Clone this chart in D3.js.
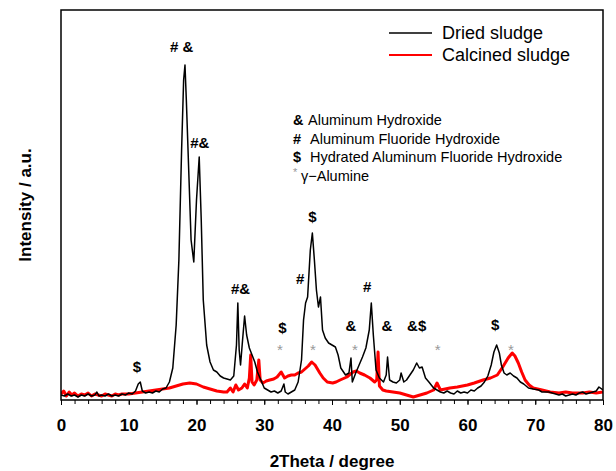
<!DOCTYPE html>
<html>
<head>
<meta charset="utf-8">
<script src="https://cdn.jsdelivr.net/npm/d3@7"></script>
<style>
	body { margin: 0; background: #fff; }
	text { font-family: Arial, "Liberation Sans", sans-serif; }
</style>
</head>
<body>
<div id="chart"></div>
<script>
// XRD patterns, [2theta, intensity a.u.]
let driedSludge = [
	[0, 5], [0.5, 4], [1, 6], [1.5, 4], [2, 5], [2.5, 3], [3, 5], [3.5, 4], [4, 6], [4.5, 4],
	[5, 5], [5.3, 8], [5.6, 4], [6, 5], [6.5, 4], [7, 6], [7.5, 4], [8, 5], [8.5, 4], [9, 6],
	[9.5, 5], [10, 7], [10.5, 6], [11, 9], [11.4, 16], [11.7, 18], [12, 9], [12.5, 7], [13, 8],
	[13.5, 7], [14, 9], [14.5, 8], [15, 11], [15.5, 12], [16, 18], [16.5, 32], [17, 75],
	[17.4, 140], [17.8, 250], [18.1, 320], [18.3, 335], [18.5, 300], [18.8, 240], [19.2, 160],
	[19.6, 138], [20, 200], [20.4, 243], [20.7, 180], [21, 100], [21.5, 55], [22, 38],
	[22.5, 30], [23, 28], [23.5, 24], [24, 22], [24.5, 21], [25, 20], [25.5, 24], [25.9, 55],
	[26.1, 97], [26.3, 50], [26.5, 35], [26.8, 60], [27.1, 84], [27.4, 65], [27.8, 52],
	[28.2, 45], [28.6, 38], [29, 28], [29.5, 20], [30, 12], [30.5, 10], [31, 8], [31.5, 9],
	[32, 7], [32.5, 9], [32.9, 16], [33.1, 8], [33.5, 6], [34, 8], [34.5, 10], [35, 18],
	[35.5, 40], [35.8, 80], [36.1, 97], [36.4, 103], [36.8, 150], [37.1, 167], [37.4, 140],
	[37.7, 110], [38, 93], [38.3, 103], [38.6, 70], [39, 62], [39.5, 57], [40, 55], [40.5, 53],
	[40.9, 45], [41.3, 32], [42, 25], [42.5, 27], [42.8, 42], [43, 18], [43.5, 27], [44, 35],
	[44.5, 43], [45, 52], [45.5, 70], [45.8, 97], [46.1, 65], [46.5, 30], [47, 22], [47.6, 18],
	[48, 25], [48.2, 43], [48.5, 20], [49, 18], [49.5, 17], [50, 20], [50.2, 27], [50.6, 18],
	[51, 20], [51.5, 25], [52, 30], [52.5, 37], [52.9, 32], [53.3, 33], [53.8, 22], [54.3, 18],
	[55, 12], [55.5, 10], [56, 8], [56.5, 7], [57, 9], [57.5, 7], [58, 6], [58.5, 9], [59, 7],
	[59.5, 8], [60, 7], [60.5, 10], [61, 9], [61.5, 12], [62, 14], [62.5, 18], [63, 24],
	[63.5, 35], [63.9, 48], [64.3, 55], [64.7, 47], [65, 35], [65.4, 27], [65.8, 25], [66.3, 27],
	[66.8, 24], [67.3, 22], [67.8, 18], [68.3, 16], [69, 12], [69.7, 11], [70.5, 10], [71, 8],
	[72, 8], [72.5, 7], [73, 6], [73.5, 5], [74, 6], [74.5, 4], [75, 5], [75.5, 6], [76, 5],
	[76.5, 7], [77, 8], [77.5, 6], [78, 7], [78.5, 8], [79, 9], [79.4, 13], [80, 10]
];

let calcinedSludge = [
	[0, 6], [0.4, 9], [0.8, 4], [1.2, 8], [1.6, 5], [2, 7], [2.5, 4], [3, 6], [3.5, 5], [4, 7],
	[4.5, 4], [5, 6], [5.5, 5], [6, 4], [6.5, 6], [7, 5], [7.5, 4], [8, 6], [8.5, 5], [9, 6],
	[10, 6], [11, 7], [12, 8], [13, 9], [14, 10], [15, 11], [16, 12], [17, 14], [18, 16],
	[19, 17], [20, 16], [21, 13], [22, 11], [23, 9], [24, 8], [24.5, 8], [25, 12], [25.4, 8],
	[25.8, 15], [26.2, 10], [26.7, 12], [27.1, 16], [27.5, 12], [27.8, 22], [28, 45], [28.2, 18],
	[28.5, 15], [28.9, 20], [29.2, 40], [29.4, 20], [29.8, 17], [30.3, 19], [30.8, 20],
	[31.4, 21], [31.9, 23], [32.5, 28], [33, 22], [33.5, 24], [34, 25], [34.5, 25], [35, 27],
	[35.5, 28], [36, 31], [36.5, 34], [37, 38], [37.5, 35], [38.2, 27], [38.7, 22], [39.3, 18],
	[40.1, 17], [40.6, 18], [41.2, 20], [42.2, 23], [43.1, 28], [43.6, 29], [44.1, 27],
	[44.8, 25], [45.6, 22], [46.3, 18], [46.6, 20], [46.8, 48], [47, 14], [47.5, 10], [48, 9],
	[49, 8], [50, 7], [51, 5], [52, 3], [53, 5], [54, 7], [55, 10], [55.5, 17], [56, 10],
	[57.4, 12], [58.5, 13], [60, 15], [61, 17], [62.3, 20], [63.4, 22], [64.4, 25], [65.2, 33],
	[66, 42], [66.6, 47], [67, 44], [67.5, 37], [68, 28], [68.5, 20], [69.1, 15], [69.7, 12],
	[71, 10], [72.2, 8], [73.5, 7], [74.5, 8], [75.5, 7], [77, 7], [78, 8], [79, 7], [80, 8]
];

// phase markers over the peaks: [2theta, intensity, label]
let peakLabels = [
	[17.8, 348, "# &"], [20.5, 252, "#&"], [26.5, 106, "#&"], [11.2, 28, "$"],
	[32.7, 67, "$"], [35.3, 116, "#"], [37.1, 178, "$"], [42.8, 69, "&"], [45.2, 108, "#"],
	[48.1, 69, "&"], [52.5, 69, "&$"], [64.1, 70, "$"]
];
let aluminaMarks = [32.3, 37.2, 43.4, 55.6, 66.4];

let xTicks = [0, 10, 20, 30, 40, 50, 60, 70, 80];
let seriesNames = ["Dried sludge", "Calcined sludge"];
let seriesColors = ["#000", "#ff0000"];
let phaseSymbols = ["&", "#", "$", "*"];
let phaseNames = ["Aluminum Hydroxide", "Aluminum Fluoride Hydroxide", "Hydrated Aluminum Fluoride Hydroxide", "γ−Alumine"];

let WIDTH = 616, HEIGHT = 471;
let margin = { left: 61, right: 13, top: 10, bottom: 71 };

let svg = d3.select("#chart").append("svg").
	attr("width", WIDTH).
	attr("height", HEIGHT);

let x = d3.scaleLinear().domain([0, 80]).range([margin.left, WIDTH - margin.right]);
let y = d3.scaleLinear().domain([0, 390]).range([HEIGHT - margin.bottom, margin.top]);

svg.append("clipPath").attr("id", "plot").
	append("rect").
	attr("x", x(0)).attr("y", y(390)).
	attr("width", x(80) - x(0)).attr("height", y(0) - y(390));

let line = d3.line().x(d => x(d[0])).y(d => y(d[1]));

// minor ticks every 2 degrees
svg.append("g").
	attr("transform", `translate(0,${y(0)})`).
	call(d3.axisBottom(x).tickValues(d3.range(0, 81, 2)).tickSize(4).tickFormat("")).
	call(g => g.select(".domain").remove()).
	call(g => g.selectAll("line").attr("stroke-width", 1));

svg.append("g").
	attr("transform", `translate(0,${y(0)})`).
	call(d3.axisBottom(x).tickValues(xTicks).tickSize(5).tickPadding(14)).
	call(g => g.select(".domain").remove()).
	call(g => g.selectAll("line").attr("stroke-width", 1)).
	call(g => g.selectAll("text").
		attr("font-size", 17).
		attr("font-weight", "bold").
		attr("font-family", "Arial, 'Liberation Sans', sans-serif").
		attr("fill", "#000"));

let plot = svg.append("g").attr("clip-path", "url(#plot)");

plot.append("path").
	datum(calcinedSludge).
	attr("fill", "none").
	attr("stroke", seriesColors[1]).
	attr("stroke-width", 3).
	attr("stroke-linejoin", "round").
	attr("d", line);

plot.append("path").
	datum(driedSludge).
	attr("fill", "none").
	attr("stroke", seriesColors[0]).
	attr("stroke-width", 1.5).
	attr("stroke-linejoin", "round").
	attr("d", line);

// frame
svg.append("rect").
	attr("x", x(0)).attr("y", y(390)).
	attr("width", x(80) - x(0)).attr("height", y(0) - y(390)).
	attr("fill", "none").
	attr("stroke", "#000").
	attr("stroke-width", 1.5);

svg.append("g").
	selectAll("text").
	data(peakLabels).
	join("text").
	attr("x", d => x(d[0])).
	attr("y", d => y(d[1])).
	attr("text-anchor", "middle").
	attr("font-size", 15).
	attr("font-weight", "bold").
	text(d => d[2]);

svg.append("g").
	selectAll("text").
	data(aluminaMarks).
	join("text").
	attr("x", d => x(d)).
	attr("y", y(0) - 45).
	attr("text-anchor", "middle").
	attr("font-size", 15).
	attr("fill", "#999").
	text("*");

// series legend
let legend = svg.append("g").
	selectAll("g").
	data(seriesNames).
	join("g").
	attr("transform", (d, i) => `translate(389,${33 + i * 22})`);

legend.append("line").
	attr("x1", 0).attr("x2", 43).
	attr("stroke", (d, i) => seriesColors[i]).
	attr("stroke-width", (d, i) => i ? 2 : 1.5);

legend.append("text").
	attr("x", 53).
	attr("dy", "0.35em").
	attr("font-size", 18).
	text(d => d);

// phase key
let key = svg.append("g").
	selectAll("g").
	data(phaseNames).
	join("g").
	attr("transform", (d, i) => `translate(293,${125 + i * 18.5})`);

key.append("text").
	attr("y", (d, i) => i < 3 ? 0 : -5).
	attr("font-weight", (d, i) => i < 3 ? "bold" : "normal").
	attr("fill", (d, i) => i < 3 ? "#000" : "#999").
	attr("font-size", (d, i) => i < 3 ? 14.5 : 11).
	text((d, i) => phaseSymbols[i]);

key.append("text").
	attr("x", (d, i) => [15, 17, 17, 8][i]).
	attr("font-size", 14.5).
	text(d => d);

svg.append("text").
	attr("x", (x(0) + x(80)) / 2).
	attr("y", 467).
	attr("text-anchor", "middle").
	attr("font-size", 17).
	attr("font-weight", "bold").
	text("2Theta / degree");

svg.append("text").
	attr("transform", `translate(31,${(y(0) + y(390)) / 2}) rotate(-90)`).
	attr("text-anchor", "middle").
	attr("font-size", 17).
	attr("font-weight", "bold").
	text("Intensity / a.u.");
</script>
</body>
</html>
